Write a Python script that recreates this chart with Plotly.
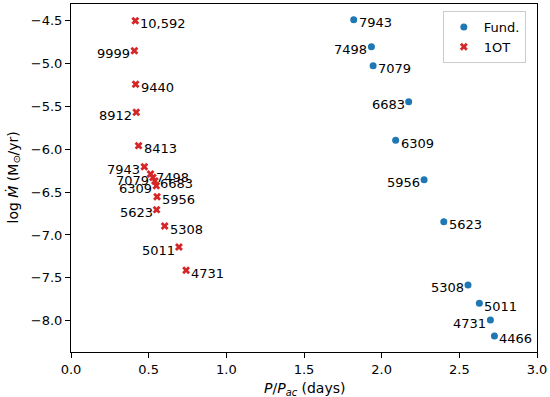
import plotly.graph_objects as go

# Fundamental mode
fund_labels = ["7943", "7498", "7079", "6683", "6309", "5956", "5623", "5308", "5011", "4731", "4466"]
fund_x = [1.82, 1.934, 1.945, 2.174, 2.09, 2.273, 2.40, 2.556, 2.629, 2.70, 2.726]
fund_y = [-4.49, -4.803, -5.025, -5.445, -5.896, -6.355, -6.845, -7.584, -7.798, -7.993, -8.179]

# First overtone
ot_labels = ["10,592", "9999", "9440", "8912", "8413", "7943", "7498", "7079", "6683", "6309",
             "5956", "5623", "5308", "5011", "4731"]
ot_x = [0.414, 0.408, 0.416, 0.42, 0.435, 0.472, 0.512, 0.527, 0.540, 0.549,
        0.554, 0.551, 0.603, 0.695, 0.741]
ot_y = [-4.50, -4.85, -5.242, -5.569, -5.958, -6.204, -6.289, -6.33, -6.37, -6.425,
        -6.554, -6.705, -6.896, -7.141, -7.412]

x_ticks = [0.0, 0.5, 1.0, 1.5, 2.0, 2.5, 3.0]
y_ticks = [-4.5, -5.0, -5.5, -6.0, -6.5, -7.0, -7.5, -8.0]

FONT = "DejaVu Sans"
BLUE = "#1f77b4"
RED = "#d62728"

fig = go.Figure()
fig.add_trace(go.Scatter(x=fund_x, y=fund_y, mode="markers", name="Fund.",
                         marker=dict(symbol="circle", size=7, color=BLUE)))
fig.add_trace(go.Scatter(x=ot_x, y=ot_y, mode="markers", name="1OT",
                         marker=dict(symbol="x", size=7, color=RED, line=dict(width=0))))

annotations = []
for xs, ys, labs in [(ot_x, ot_y, ot_labels), (fund_x, fund_y, fund_labels)]:
    for i, (x, y, t) in enumerate(zip(xs, ys, labs)):
        right = (i % 2 == 0)
        annotations.append(dict(
            x=x, y=y, xref="x", yref="y", text=t, showarrow=False,
            xanchor="left" if right else "right", yanchor="middle",
            xshift=4 if right else -3, yshift=-3, borderpad=0,
            font=dict(family=FONT, size=13, color="black")))

# axis titles
annotations.append(dict(x=0.5, y=0, xref="paper", yref="paper", yshift=-26,
                        text="<i>P</i>/<i>P</i><sub><i>ac</i></sub> (days)",
                        showarrow=False, xanchor="center", yanchor="top",
                        font=dict(family=FONT, size=14, color="black")))
annotations.append(dict(x=0, y=0.5, xref="paper", yref="paper", xshift=-47,
                        text="log <i>M\u0307</i> (M<sub>\u2299</sub>/yr)", textangle=-90,
                        showarrow=False, xanchor="right", yanchor="middle",
                        font=dict(family=FONT, size=14, color="black")))

fig.update_layout(
    width=550, height=397,
    margin=dict(l=71, r=13, t=4, b=45),
    paper_bgcolor="white", plot_bgcolor="white",
    font=dict(family=FONT, size=13, color="black"),
    showlegend=True,
    legend=dict(x=0.976, y=0.98, xanchor="right", yanchor="top",
                bordercolor="#cccccc", borderwidth=1, bgcolor="rgba(255,255,255,0.8)",
                font=dict(family=FONT, size=13), itemwidth=30, tracegroupgap=0),
    annotations=annotations,
)
fig.update_xaxes(range=[0, 3], tickvals=x_ticks, ticktext=[f"{v:.1f}" for v in x_ticks],
                 showgrid=False, zeroline=False, showline=True, linecolor="black", linewidth=1,
                 mirror=True, ticks="outside", ticklen=5, tickcolor="black", automargin=False,
                 tickfont=dict(family=FONT, size=13))
fig.update_yaxes(range=[-8.366, -4.305], tickvals=y_ticks,
                 ticktext=[f"\u2212{abs(v):.1f}" for v in y_ticks],
                 showgrid=False, zeroline=False, showline=True, linecolor="black", linewidth=1,
                 mirror=True, ticks="outside", ticklen=5, tickcolor="black", automargin=False,
                 tickfont=dict(family=FONT, size=13))

fig.write_html("out.html", config={"displayModeBar": False},
               post_script="document.body.style.margin='0';document.body.style.overflow='hidden';")
